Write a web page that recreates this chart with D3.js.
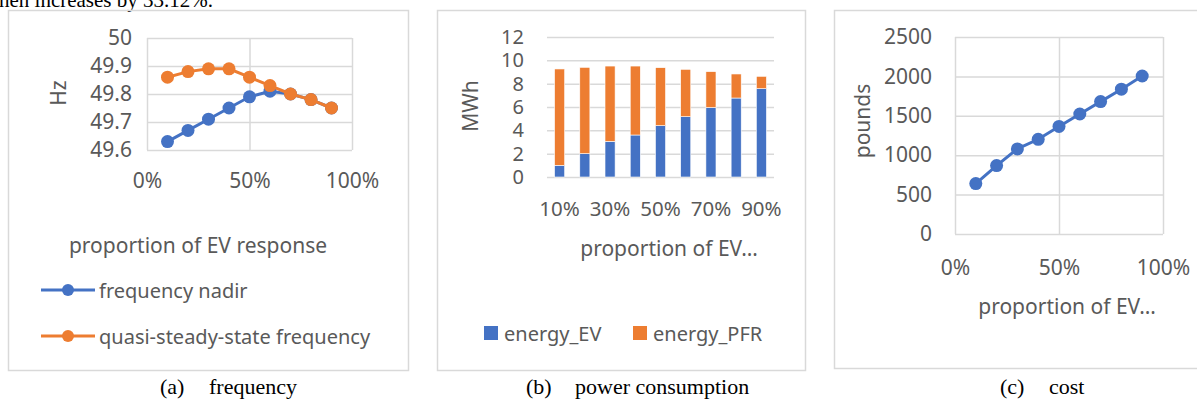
<!DOCTYPE html>
<html>
<head>
<meta charset="utf-8">
<script src="https://cdn.jsdelivr.net/npm/d3@7"></script>
<style>
  body { margin: 0; background: #fff; }
  svg { display: block; }
</style>
</head>
<body>
<svg id="chart" width="1197" height="401"></svg>
<script>
// valeurs
const proportions = [0.1, 0.2, 0.3, 0.4, 0.5, 0.6, 0.7, 0.8, 0.9]
const barLabels = ['10%', '20%', '30%', '40%', '50%', '60%', '70%', '80%', '90%']
const nadir = [49.63, 49.67, 49.71, 49.75, 49.79, 49.81, 49.80, 49.78, 49.75]
const quasiSteady = [49.86, 49.88, 49.89, 49.89, 49.86, 49.83, 49.80, 49.78, 49.75]
const energyEV = [1.0, 2.0, 3.05, 3.6, 4.4, 5.17, 5.95, 6.77, 7.57]
const energyPFR = [8.26, 7.4, 6.46, 5.91, 4.97, 4.06, 3.08, 2.06, 1.06]
const cost = [640, 868, 1080, 1202, 1365, 1523, 1680, 1838, 2005]

const freqTicks = [49.6, 49.7, 49.8, 49.9, 50]
const energyTicks = [0, 2, 4, 6, 8, 10, 12]
const costTicks = [0, 500, 1000, 1500, 2000, 2500]
const pctTicks = [0, 0.5, 1]
const barTickLabels = ['10%', '30%', '50%', '70%', '90%']

const BLEU = '#4472C4'
const ORANGE = '#ED7D31'
const GRILLE = '#d9d9d9'
const TEXTE = '#595959'
const POLICE = "'Noto Sans', 'Open Sans', sans-serif"
const SERIF = "'Liberation Serif', 'Times New Roman', serif"

const svg = d3.select('#chart')
const pct = d3.format('.0%')

//Texte coupé en haut de la page
svg.append('text').text('hen increases by 33.12%.').attr('x', -1).attr('y', 7)
    .attr('font-family', SERIF).attr('font-size', 21).attr('fill', '#000')

//Cadres des trois graphiques
function cadre(x0, y0, x1, y1) {
    svg.append('rect').attr('x', x0 + 0.5).attr('y', y0 + 0.5).attr('width', x1 - x0).attr('height', y1 - y0)
        .attr('fill', 'none').attr('stroke', GRILLE).attr('stroke-width', 1.5)
}
cadre(8, 10, 408, 370)
cadre(437, 10, 805, 370)
cadre(834, 10, 1205, 368)

//Style commun des axes
function styleAxe(g, fontSize) {
    g.select('.domain').remove()
    g.selectAll('.tick line').attr('stroke', GRILLE).attr('stroke-width', 1.5)
    g.selectAll('.tick text').attr('fill', TEXTE).attr('font-family', POLICE).attr('font-size', fontSize)
}

function texte(x, y, t, size, rot) {
    const el = svg.append('text').text(t).attr('font-family', POLICE).attr('font-size', size)
        .attr('fill', TEXTE).attr('text-anchor', 'middle').attr('dominant-baseline', 'central')
    if (rot) el.attr('transform', 'translate(' + x + ',' + y + ') rotate(-90)')
    else el.attr('x', x).attr('y', y)
    return el
}

function caption(x, lettre, titre) {
    svg.append('text').text(lettre).attr('x', x).attr('y', 394).attr('font-family', SERIF).attr('font-size', 22).attr('fill', '#000')
    svg.append('text').text(titre).attr('x', x + 49).attr('y', 394).attr('font-family', SERIF).attr('font-size', 22).attr('fill', '#000')
}

//Graphique (a) frequency
function graphFrequence() {
    const x = d3.scaleLinear().domain([0, 1]).range([147, 352])
    const y = d3.scaleLinear().domain([49.6, 50]).range([150, 38])

    const gy = svg.append('g').attr('transform', 'translate(147,0)')
        .call(d3.axisLeft(y).tickValues(freqTicks).tickSize(-205).tickPadding(15).tickFormat(d => String(+d.toFixed(1))))
    styleAxe(gy, 21)
    const gx = svg.append('g').attr('transform', 'translate(0,150)')
        .call(d3.axisBottom(x).tickValues(pctTicks).tickSize(-112).tickFormat(pct))
    styleAxe(gx, 21)
    gx.selectAll('.tick text').attr('y', 31).attr('dy', '0.35em')

    const ligne = d3.line().x((d, i) => x(proportions[i])).y(d => y(d))
    const series = [[nadir, BLEU], [quasiSteady, ORANGE]]
    series.forEach(([vals, c]) => {
        svg.append('path').datum(vals).attr('d', ligne).attr('fill', 'none').attr('stroke', c).attr('stroke-width', 3)
        svg.append('g').selectAll('circle').data(vals).join('circle')
            .attr('cx', (d, i) => x(proportions[i])).attr('cy', d => y(d)).attr('r', 6.5).attr('fill', c)
    })

    texte(58, 93, 'Hz', 21, true)
    texte(198, 245, 'proportion of EV response', 21)

    //Légende
    const items = [['frequency nadir', BLEU, 290], ['quasi-steady-state frequency', ORANGE, 336]]
    items.forEach(([nom, c, ly]) => {
        svg.append('line').attr('x1', 41).attr('x2', 95).attr('y1', ly).attr('y2', ly).attr('stroke', c).attr('stroke-width', 3)
        svg.append('circle').attr('cx', 68).attr('cy', ly).attr('r', 6).attr('fill', c)
        svg.append('text').text(nom).attr('x', 99).attr('y', ly).attr('dominant-baseline', 'central')
            .attr('font-family', POLICE).attr('font-size', 20).attr('fill', TEXTE)
    })
    caption(160, '(a)', 'frequency')
}

//Graphique (b) power consumption
function graphEnergie() {
    const x = d3.scaleBand().domain(barLabels).range([547, 774]).paddingInner(0.6).paddingOuter(0.3)
    const y = d3.scaleLinear().domain([0, 12]).range([177, 37])

    const gy = svg.append('g').attr('transform', 'translate(547,0)')
        .call(d3.axisLeft(y).tickValues(energyTicks).tickSize(-227).tickPadding(23))
    styleAxe(gy, 20)
    const gx = svg.append('g').attr('transform', 'translate(0,177)')
        .call(d3.axisBottom(x).tickValues(barTickLabels).tickSize(0))
    styleAxe(gx, 20.5)
    gx.selectAll('.tick text').attr('y', 32).attr('dy', '0.35em')

    const rows = barLabels.map((k, i) => ({ k: k, ev: energyEV[i], pfr: energyPFR[i] }))
    const stack = d3.stack().keys(['ev', 'pfr'])(rows)
    const couleurs = [BLEU, ORANGE]
    stack.forEach((s, j) => {
        svg.append('g').attr('fill', couleurs[j]).selectAll('rect').data(s).join('rect')
            .attr('x', d => x(d.data.k)).attr('width', x.bandwidth())
            .attr('y', d => y(d[1])).attr('height', d => y(d[0]) - y(d[1]))
            .attr('stroke', '#fff').attr('stroke-width', 0.6)
    })

    texte(470, 106, 'MWh', 21, true)
    texte(669, 248, 'proportion of EV…', 21)

    //Légende
    const items = [['energy_EV', BLEU, 484], ['energy_PFR', ORANGE, 633]]
    items.forEach(([nom, c, lx]) => {
        svg.append('rect').attr('x', lx).attr('y', 326).attr('width', 14).attr('height', 14).attr('fill', c)
        svg.append('text').text(nom).attr('x', lx + 20).attr('y', 333).attr('dominant-baseline', 'central')
            .attr('font-family', POLICE).attr('font-size', 20).attr('fill', TEXTE)
    })
    caption(526, '(b)', 'power consumption')
}

//Graphique (c) cost
function graphCout() {
    const x = d3.scaleLinear().domain([0, 1]).range([955, 1163])
    const y = d3.scaleLinear().domain([0, 2500]).range([234, 37])

    const gy = svg.append('g').attr('transform', 'translate(955,0)')
        .call(d3.axisLeft(y).tickValues(costTicks).tickSize(-208).tickPadding(23).tickFormat(d3.format('d')))
    styleAxe(gy, 21)
    const gx = svg.append('g').attr('transform', 'translate(0,234)')
        .call(d3.axisBottom(x).tickValues(pctTicks).tickSize(-197).tickFormat(pct))
    styleAxe(gx, 21)
    gx.selectAll('.tick text').attr('y', 34).attr('dy', '0.35em')

    const ligne = d3.line().x((d, i) => x(proportions[i])).y(d => y(d))
    svg.append('path').datum(cost).attr('d', ligne).attr('fill', 'none').attr('stroke', BLEU).attr('stroke-width', 3)
    svg.append('g').selectAll('circle').data(cost).join('circle')
        .attr('cx', (d, i) => x(proportions[i])).attr('cy', d => y(d)).attr('r', 6.5).attr('fill', BLEU)

    texte(862, 121, 'pounds', 21, true)
    texte(1067, 306, 'proportion of EV…', 21)
    caption(1000, '(c)', 'cost')
}

graphFrequence()
graphEnergie()
graphCout()
</script>
</body>
</html>
